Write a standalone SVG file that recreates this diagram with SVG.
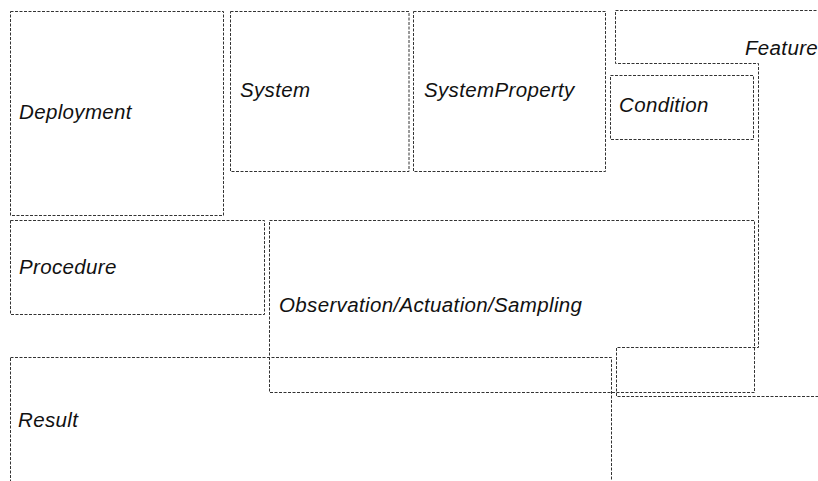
<svg xmlns="http://www.w3.org/2000/svg" width="818" height="481" viewBox="0 0 818 481">
<style>
.box{fill:none;stroke:#333;stroke-width:1;stroke-dasharray:3,1.5}
.lbl{font-family:"Liberation Sans",Arial,sans-serif;font-style:italic;font-size:20.5px;letter-spacing:0.35px;fill:#111}
</style>
<rect width="818" height="481" fill="#fff"/>
<g id="Deployment"><rect class="box" x="10.5" y="11.5" width="213" height="204"/><text class="lbl" x="19" y="119">Deployment</text></g>
<g id="System"><rect class="box" x="230.5" y="11.5" width="178.5" height="160"/><text class="lbl" x="240" y="97">System</text></g>
<g id="SystemProperty"><rect class="box" x="413.5" y="11.5" width="192" height="160"/><text class="lbl" x="424" y="97">SystemProperty</text></g>
<g id="Feature"><path class="box" d="M615.5,10.5 H830 V396.5 H616.5 V347.5 H758.5 V63.5 H615.5 Z"/><text class="lbl" x="745" y="55">Feature</text></g>
<g id="Condition"><rect class="box" x="610.5" y="75.5" width="143" height="64"/><text class="lbl" x="619" y="112">Condition</text></g>
<g id="Procedure"><rect class="box" x="10.5" y="220.5" width="254" height="94"/><text class="lbl" x="19" y="274">Procedure</text></g>
<g id="Observation"><rect class="box" x="269.5" y="220.5" width="485" height="172"/><text class="lbl" x="279" y="312">Observation/Actuation/Sampling</text></g>
<g id="Result"><rect class="box" x="10.5" y="357.5" width="601" height="150"/><text class="lbl" x="18" y="427">Result</text></g>
<g id="connectors"/>
</svg>
